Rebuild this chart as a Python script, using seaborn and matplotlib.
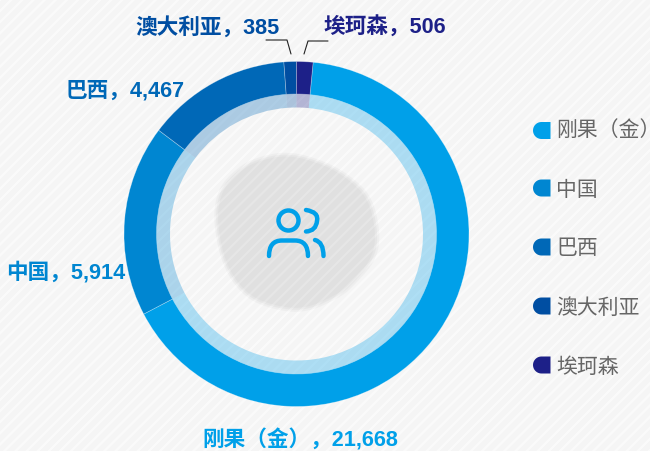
import numpy as np
import seaborn as sns
import matplotlib
matplotlib.use("Agg")
import matplotlib.pyplot as plt
from matplotlib.patches import Rectangle, Circle, PathPatch, Polygon
from matplotlib.path import Path

# data
countries = ["刚果（金）", "中国", "巴西", "澳大利亚", "埃珂森"]
values = [21668, 5914, 4467, 385, 506]
colors = ["#00A0E9", "#0086D1", "#0068B7", "#004EA2", "#1D2088"]

sns.set_theme(style="white")
plt.rcParams['font.family'] = ['Liberation Sans', 'Noto Sans CJK SC']
plt.rcParams['hatch.color'] = 'white'
plt.rcParams['hatch.linewidth'] = 1.6

palette = sns.color_palette(colors)
W, H = 650, 451
CX, CY = 296.5, H - 234

fig = plt.figure(figsize=(6.5, 4.51), dpi=100, facecolor="#f5f5f5")
ax = fig.add_axes([0, 0, 1, 1])
ax.set_facecolor("#f5f5f5")


def py(y):
    # picture y (from the top) to axes y
    return H - y


def smooth(pts, n=3):
    # round off the corners of a closed outline
    for _ in range(n):
        nxt = np.roll(pts, -1, axis=0)
        a = 0.75 * pts + 0.25 * nxt
        b = 0.25 * pts + 0.75 * nxt
        pts = np.column_stack([a, b]).reshape(-1, 2)
    return pts


# diagonal texture
ax.add_patch(Rectangle((0, 0), W, H, fc="none", ec="white", lw=0, hatch="///", alpha=0.6, zorder=1))

# grey blob behind the icon
blob_x = [215, 220, 236, 255, 288, 324, 350, 370, 378, 374, 354, 340, 305, 272, 245, 224]
blob_y = [220, 190, 172, 160, 153, 163, 178, 198, 233, 259, 282, 295, 311, 307, 295, 265]
blob_pts = smooth(np.column_stack([blob_x, py(np.array(blob_y))]))
mid = blob_pts.mean(axis=0) - [6, 0]
for scale, alpha in [(1.03, 0.3), (1.005, 0.5), (0.98, 0.9)]:
    ax.add_patch(Polygon(mid + (blob_pts - mid) * scale, closed=True, fc="#e0e0e0", ec="none",
                         alpha=alpha, zorder=2))
# texture again, fainter, so it shows through the blob
ax.add_patch(Rectangle((0, 0), W, H, fc="none", ec="white", lw=0, hatch="///", alpha=0.2, zorder=2.5))

# outer ring, last slice ends at twelve o'clock
start = 90 - values[-1] / sum(values) * 360
ax.pie(values, colors=palette, startangle=start, counterclock=False, center=(CX, CY), radius=172.5,
       frame=True, wedgeprops=dict(width=32.5, edgecolor=(1, 1, 1, 0.35), linewidth=0.5, zorder=3))
# inner pale ring
ax.pie(values, colors=palette, startangle=start, counterclock=False, center=(CX, CY), radius=140,
       frame=True, wedgeprops=dict(width=13.5, alpha=0.3, linewidth=0, zorder=3))

# slice labels
label_pos = [(300, 440), (66, 272.5), (125, 91), (207, 27.5), (385, 27.5)]
for name, val, c, (x, y) in zip(countries, values, palette, label_pos):
    ax.text(x, py(y), f"{name}，{val:,}", color=c, fontsize=15.6, fontweight="bold",
            ha="center", va="center", zorder=5)

# leader lines
ax.plot([266, 287, 291], py(np.array([40, 40, 54])), color="#222222", lw=0.8, zorder=4)
ax.plot([328, 308, 304], py(np.array([41, 41, 54])), color="#222222", lw=0.8, zorder=4)

# legend
legend_y = [130.5, 188, 247, 306, 365]
legend_text_y = [130, 190, 248.5, 308, 367]
for name, c, y, ty in zip(countries, palette, legend_y, legend_text_y):
    r = 8.5
    t = np.linspace(np.pi / 2, 3 * np.pi / 2, 30)
    xs = np.r_[541.5 + r * np.cos(t), 550.5, 550.5]
    ys = np.r_[py(y) + r * np.sin(t), py(y) - r, py(y) + r]
    ax.add_patch(Polygon(np.column_stack([xs, ys]), closed=True, fc=c, ec="none", zorder=4))
    ax.text(556.5, py(ty), name, color="#666666", fontsize=15, ha="left", va="center", zorder=5)

# people icon
blue = "#00A0E9"
icon = dict(fc="none", ec=blue, lw=3.2, capstyle="round", zorder=4)
ax.add_patch(Circle((288.5, py(220.5)), 10, **icon))
ax.add_patch(PathPatch(Path([(306, py(210)), (319, py(212)), (317, py(221)), (316, py(231)), (306, py(231.5))],
                            [Path.MOVETO, Path.CURVE3, Path.CURVE3, Path.CURVE3, Path.CURVE3]), **icon))
ax.add_patch(PathPatch(Path([(269, py(256)), (269, py(240.5)), (282, py(240.5)), (295, py(240.5)),
                             (308, py(240.5)), (308, py(256))],
                            [Path.MOVETO, Path.CURVE3, Path.LINETO, Path.LINETO, Path.CURVE3, Path.CURVE3]), **icon))
ax.add_patch(PathPatch(Path([(315, py(240)), (323.5, py(242)), (323.5, py(256))],
                            [Path.MOVETO, Path.CURVE3, Path.CURVE3]), **icon))

ax.set_xlim(0, W)
ax.set_ylim(0, H)
ax.set_aspect("equal")
ax.axis("off")

fig.savefig("out.png", dpi=100, facecolor=fig.get_facecolor())
